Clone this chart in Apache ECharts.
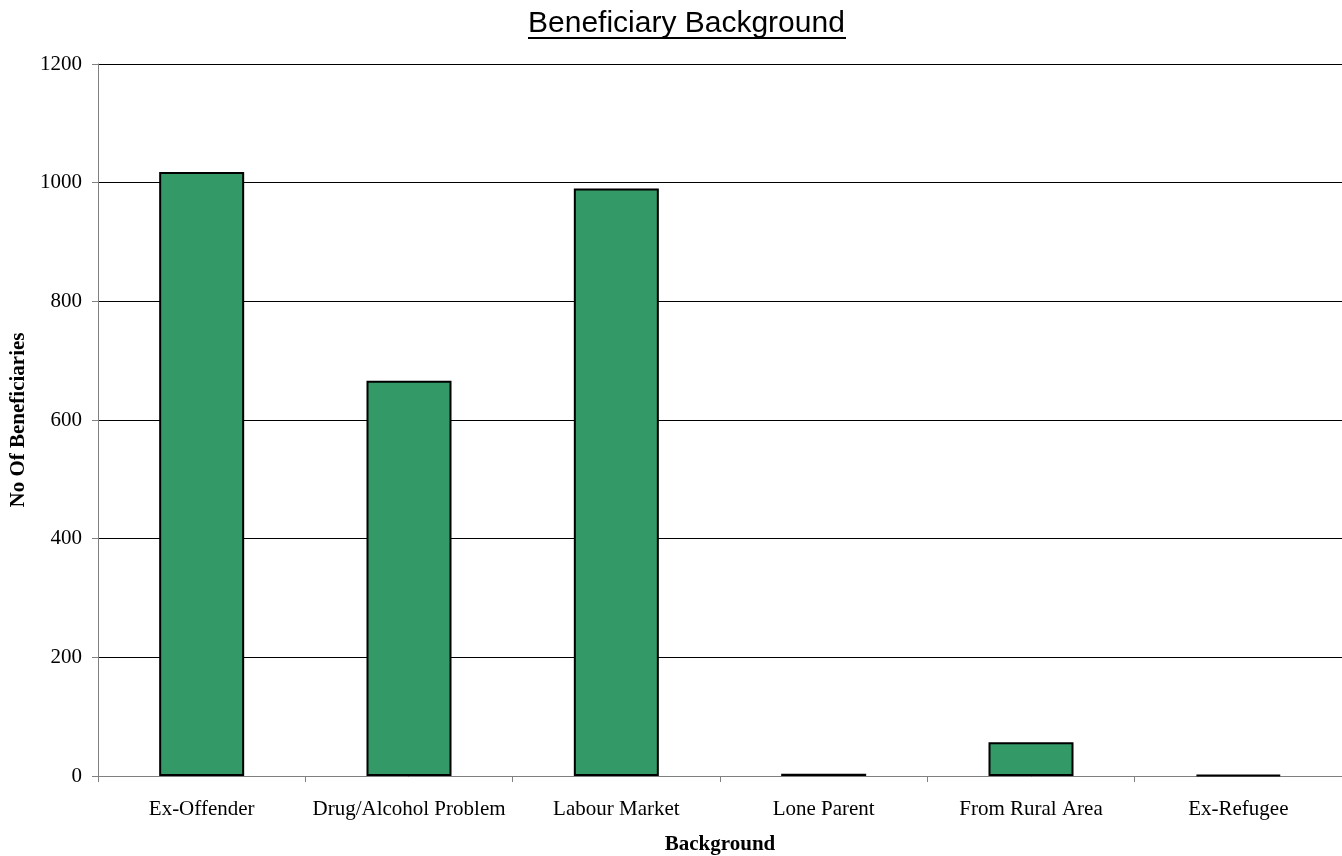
<!DOCTYPE html>
<html><head><meta charset="utf-8">
<script src="https://cdn.jsdelivr.net/npm/echarts@6/dist/echarts.min.js"></script>
<style>html,body{margin:0;padding:0;background:#fff}#c{width:1342px;height:856px}</style>
</head><body><div id="c"></div>
<script>
const categories = ['Ex-Offender','Drug/Alcohol Problem','Labour Market','Lone Parent','From Rural Area','Ex-Refugee'];
const values = [1018, 666, 990, 4, 57, 2];
const yTicks = {min:0, max:1200, interval:200};

const chart = echarts.init(document.getElementById('c'));
chart.setOption({
  animation:false,
  backgroundColor:'#fff',
  title:{text:'Beneficiary Background', left:523, top:4,
    textStyle:{fontFamily:'Liberation Sans, Arial', fontSize:30, fontWeight:'normal', color:'#000'}},
  graphic:[{type:'line', shape:{x1:528,y1:38,x2:846,y2:38}, style:{stroke:'#000', lineWidth:2}}],
  grid:{left:98, right:0, top:64, bottom:80, outerBoundsMode:'none', containLabel:false},
  xAxis:{type:'category', data:categories,
    name:'Background', nameLocation:'middle', nameGap:58,
    nameTextStyle:{fontFamily:'Liberation Serif, Times New Roman', fontSize:21, fontWeight:'bold', color:'#000'},
    axisLine:{lineStyle:{color:'#808080', width:1}},
    axisTick:{show:true, length:6, lineStyle:{color:'#808080'}},
    axisLabel:{fontFamily:'Liberation Serif, Times New Roman', fontSize:21, color:'#000', margin:23, interval:0}},
  yAxis:{type:'value', min:yTicks.min, max:yTicks.max, interval:yTicks.interval,
    name:'No Of Beneficiaries', nameLocation:'middle', nameGap:64,
    nameTextStyle:{fontFamily:'Liberation Serif, Times New Roman', fontSize:21, fontWeight:'bold', color:'#000'},
    axisLine:{show:true, lineStyle:{color:'#808080'}},
    axisTick:{show:true, length:6, lineStyle:{color:'#808080'}},
    axisLabel:{fontFamily:'Liberation Serif, Times New Roman', fontSize:21, color:'#000', margin:16, formatter:v=>String(v)},
    splitLine:{show:true, lineStyle:{color:'#000', width:1}}},
  series:[{type:'bar', data:values, barWidth:'41%',
    itemStyle:{color:'#339966', borderColor:'#000', borderWidth:2}}]
});
</script></body></html>
